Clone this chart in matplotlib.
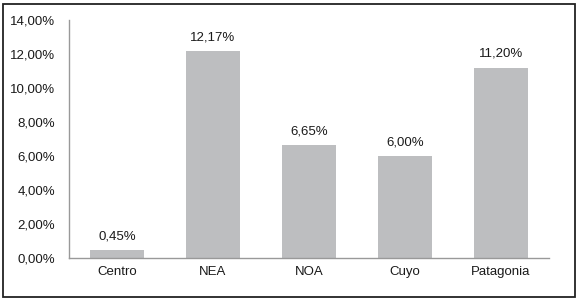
import matplotlib
matplotlib.use("Agg")
import matplotlib.pyplot as plt
from matplotlib.patches import Rectangle

regions = ["Centro", "NEA", "NOA", "Cuyo", "Patagonia"]
values = [0.45, 12.17, 6.65, 6.00, 11.20]
yticks = [0, 2, 4, 6, 8, 10, 12, 14]

plt.rcParams["font.family"] = ["Liberation Sans", "DejaVu Sans"]

fig = plt.figure(figsize=(5.78, 3.01), dpi=100)
ax = fig.add_axes([0.1194, 0.1429, 0.8304, 0.7907])

x = list(range(len(regions)))
ax.bar(x, values, width=0.57, color="#bdbec0")
for xi, v in zip(x, values):
    ax.text(xi, v + 0.45, f"{v:.2f}%".replace(".", ","), ha="center", va="bottom",
            fontsize=9.5, color="#1a1a1a")

ax.set_xlim(-0.5, len(regions) - 0.5)
ax.set_ylim(0, 14)
ax.set_yticks(yticks)
ax.set_yticklabels([f"{t:.2f}%".replace(".", ",") for t in yticks])
ax.set_xticks(x)
ax.set_xticklabels(regions)
ax.tick_params(axis="both", length=0, labelsize=9.5, colors="#1a1a1a")
ax.tick_params(axis="y", pad=10)
ax.tick_params(axis="x", pad=6)
for s in ["top", "right"]:
    ax.spines[s].set_visible(False)
for s in ["left", "bottom"]:
    ax.spines[s].set_color("#999999")
    ax.spines[s].set_linewidth(1.0)

fig.patches.append(Rectangle((3 / 578, 4 / 301), 572 / 578, 293 / 301,
                             transform=fig.transFigure, fill=False,
                             edgecolor="#222222", linewidth=1.3))

fig.savefig("out.png", dpi=100)
